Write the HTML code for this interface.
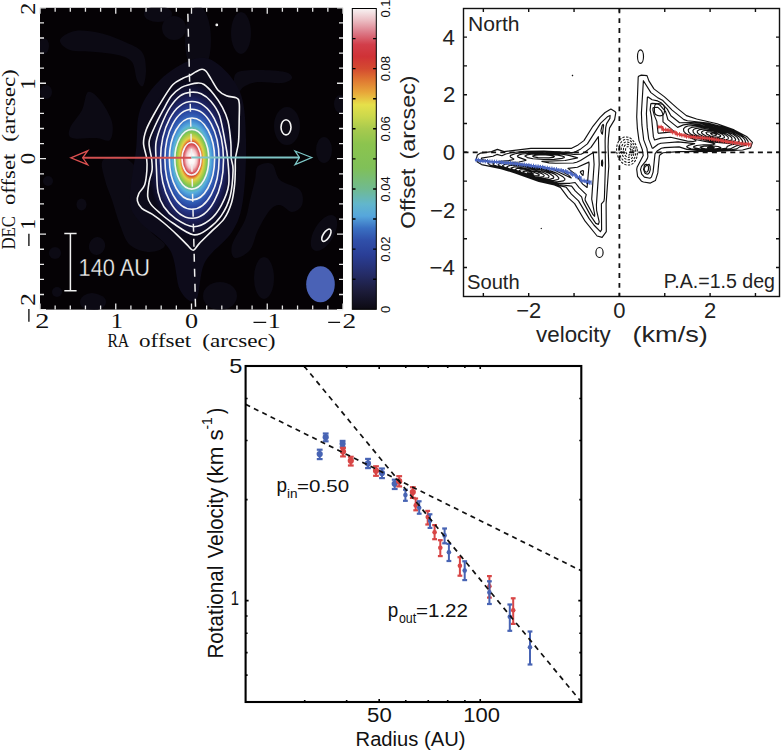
<!DOCTYPE html>
<html><head><meta charset="utf-8"><title>figure</title>
<style>html,body{margin:0;padding:0;background:#fff;width:781px;height:752px;overflow:hidden}
svg{display:block;font-family:"Liberation Sans",sans-serif}</style></head>
<body><svg width="781" height="752" viewBox="0 0 781 752">
<rect width="781" height="752" fill="#fff"/>
<defs>
<radialGradient id="blob" cx="0.5" cy="0.5" r="0.5" gradientUnits="objectBoundingBox">
<stop offset="0" stop-color="#ffffff"/>
<stop offset="0.06" stop-color="#fdf6f6"/>
<stop offset="0.11" stop-color="#f2c6ca"/>
<stop offset="0.15" stop-color="#de6a72"/>
<stop offset="0.18" stop-color="#d03234"/>
<stop offset="0.2" stop-color="#dc5a30"/>
<stop offset="0.22" stop-color="#e6a038"/>
<stop offset="0.24" stop-color="#e2d048"/>
<stop offset="0.28" stop-color="#a8cc48"/>
<stop offset="0.31" stop-color="#7cc454"/>
<stop offset="0.34" stop-color="#66bea0"/>
<stop offset="0.38" stop-color="#58b0dc"/>
<stop offset="0.42" stop-color="#4690d4"/>
<stop offset="0.47" stop-color="#3466bc"/>
<stop offset="0.54" stop-color="#2a48a2"/>
<stop offset="0.6" stop-color="#243484"/>
<stop offset="0.66" stop-color="#1e2466"/>
<stop offset="0.72" stop-color="#181a4a"/>
<stop offset="0.8" stop-color="#100f2e"/>
<stop offset="0.88" stop-color="#0a0818"/>
<stop offset="0.96" stop-color="#0d0b1a"/>
<stop offset="1" stop-color="#0d0b1a"/>
</radialGradient>
<linearGradient id="cbar" x1="0" y1="1" x2="0" y2="0">
<stop offset="0" stop-color="#0c0a12"/>
<stop offset="0.06" stop-color="#1c1c3a"/>
<stop offset="0.12" stop-color="#252d6a"/>
<stop offset="0.18" stop-color="#2a3e96"/>
<stop offset="0.23" stop-color="#3050aa"/>
<stop offset="0.27" stop-color="#3a70c2"/>
<stop offset="0.31" stop-color="#56a6dc"/>
<stop offset="0.35" stop-color="#62b6cc"/>
<stop offset="0.4" stop-color="#70ba90"/>
<stop offset="0.47" stop-color="#80c058"/>
<stop offset="0.55" stop-color="#8cc44e"/>
<stop offset="0.6" stop-color="#a8ca4e"/>
<stop offset="0.64" stop-color="#cad84c"/>
<stop offset="0.68" stop-color="#e6e04a"/>
<stop offset="0.72" stop-color="#e8a83a"/>
<stop offset="0.76" stop-color="#e07a32"/>
<stop offset="0.8" stop-color="#d44a30"/>
<stop offset="0.84" stop-color="#d03236"/>
<stop offset="0.88" stop-color="#d23e4a"/>
<stop offset="0.92" stop-color="#dc7a88"/>
<stop offset="0.96" stop-color="#ebbcc2"/>
<stop offset="1" stop-color="#f8f4f4"/>
</linearGradient>
<clipPath id="lclip"><rect x="40" y="7.8" width="303" height="301.8"/></clipPath>
<clipPath id="rclip"><rect x="463.5" y="8.5" width="315.5" height="287.5"/></clipPath>
<clipPath id="bclip"><rect x="246" y="366" width="335" height="336"/></clipPath>
</defs>
<rect x="40" y="7.8" width="303" height="301.8" fill="#050205"/>
<g clip-path="url(#lclip)">
<path d="M60,40C60.83,36.83 68.33,32.17 75,31C81.67,29.83 91.67,31.17 100,33C108.33,34.83 118,38.83 125,42C132,45.17 138.5,47.33 142,52C145.5,56.67 145.83,64.33 146,70C146.17,75.67 144.5,84.33 143,86C141.5,87.67 138.83,84 137,80C135.17,76 135.17,66.17 132,62C128.83,57.83 124.17,56.67 118,55C111.83,53.33 103,52.83 95,52C87,51.17 75.83,52 70,50C64.17,48 59.17,43.17 60,40Z" fill="#0c0a14"/>
<path d="M88,92C91,90.33 96,95 100,100C104,105 110.33,115.33 112,122C113.67,128.67 112.67,137.33 110,140C107.33,142.67 102.33,138.33 96,138C89.67,137.67 76.33,139.67 72,138C67.67,136.33 68.33,132.67 70,128C71.67,123.33 79,116 82,110C85,104 85,93.67 88,92Z" fill="#0c0a14"/>
<path d="M103,160C106.33,156.33 118.83,155.5 125,158C131.17,160.5 137.5,168 140,175C142.5,182 138.33,190.83 140,200C141.67,209.17 145.83,222.5 150,230C154.17,237.5 165,241.33 165,245C165,248.67 155.83,252 150,252C144.17,252 135,249.5 130,245C125,240.5 123,232.5 120,225C117,217.5 114.5,207.5 112,200C109.5,192.5 106.5,186.67 105,180C103.5,173.33 99.67,163.67 103,160Z" fill="#0c0a14"/>
<path d="M258,166C260.83,163.33 268.33,161.67 272,164C275.67,166.33 275.33,175.67 280,180C284.67,184.33 296.33,185.83 300,190C303.67,194.17 303.33,201.33 302,205C300.67,208.67 295.67,212 292,212C288.33,212 283.67,205.33 280,205C276.33,204.67 273.67,205.83 270,210C266.33,214.17 261.33,223.33 258,230C254.67,236.67 253.83,245.33 250,250C246.17,254.67 238,258.83 235,258C232,257.17 230.33,251.33 232,245C233.67,238.67 242,227.5 245,220C248,212.5 248.33,206.67 250,200C251.67,193.33 253.67,185.67 255,180C256.33,174.33 255.17,168.67 258,166Z" fill="#0c0a14"/>
<path d="M238,72C242.33,70 252.17,70 260,70C267.83,70 279.67,70.67 285,72C290.33,73.33 292.5,76.17 292,78C291.5,79.83 287.67,82.33 282,83C276.33,83.67 264.17,81.5 258,82C251.83,82.5 248.33,84.33 245,86C241.67,87.67 239.83,92.67 238,92C236.17,91.33 234,85.33 234,82C234,78.67 233.67,74 238,72Z" fill="#0c0a14"/>
<ellipse cx="241" cy="33" rx="10" ry="21" transform="rotate(0 241 33)" fill="#0c0a14"/>
<ellipse cx="287" cy="126" rx="13" ry="19" transform="rotate(0 287 126)" fill="#0c0a14"/>
<ellipse cx="324" cy="150" rx="8" ry="13" transform="rotate(0 324 150)" fill="#0c0a14"/>
<ellipse cx="340" cy="104" rx="6" ry="9" transform="rotate(0 340 104)" fill="#0c0a14"/>
<ellipse cx="198" cy="40" rx="13" ry="34" transform="rotate(0 198 40)" fill="#0c0a14"/>
<ellipse cx="81.5" cy="204.5" rx="5" ry="6" transform="rotate(0 81.5 204.5)" fill="#0c0a14"/>
<ellipse cx="97" cy="246" rx="8" ry="9" transform="rotate(20 97 246)" fill="#0c0a14"/>
<ellipse cx="94" cy="302" rx="12" ry="8" transform="rotate(0 94 302)" fill="#0c0a14"/>
<ellipse cx="48" cy="181" rx="5" ry="5" transform="rotate(0 48 181)" fill="#0c0a14"/>
<ellipse cx="55" cy="253" rx="6" ry="6" transform="rotate(0 55 253)" fill="#0c0a14"/>
<ellipse cx="57" cy="292" rx="5" ry="5" transform="rotate(0 57 292)" fill="#0c0a14"/>
<ellipse cx="92" cy="302" rx="12" ry="9" transform="rotate(0 92 302)" fill="#0c0a14"/>
<ellipse cx="264" cy="278" rx="10" ry="21" transform="rotate(0 264 278)" fill="#0c0a14"/>
<ellipse cx="324" cy="233" rx="10" ry="20" transform="rotate(30 324 233)" fill="#0c0a14"/>
<ellipse cx="220" cy="296" rx="17" ry="14" transform="rotate(0 220 296)" fill="#0c0a14"/>
<ellipse cx="158" cy="14" rx="14" ry="8" transform="rotate(0 158 14)" fill="#0c0a14"/>
<ellipse cx="174" cy="28" rx="12" ry="12" transform="rotate(0 174 28)" fill="#0c0a14"/>
<ellipse cx="44" cy="46" rx="5" ry="8" transform="rotate(0 44 46)" fill="#0c0a14"/>
<ellipse cx="46" cy="92" rx="6" ry="7" transform="rotate(0 46 92)" fill="#0c0a14"/>
<path d="M191,60C200.17,57 206.83,56.67 215,62C223.17,67.33 234.83,79 240,92C245.17,105 245.5,122 246,140C246.5,158 245.33,184.67 243,200C240.67,215.33 238.33,221.67 232,232C225.67,242.33 211,250.67 205,262C199,273.33 200.17,295.33 196,300C191.83,304.67 184.33,298.33 180,290C175.67,281.67 176.67,261.33 170,250C163.33,238.67 146.67,230.33 140,222C133.33,213.67 130.67,212 130,200C129.33,188 134.33,165 136,150C137.67,135 136,121.67 140,110C144,98.33 151.5,88.33 160,80C168.5,71.67 181.83,63 191,60Z" fill="#0d0b1a"/>
<ellipse cx="191.6" cy="159" rx="50" ry="88.5" fill="url(#blob)"/>
<g fill="none" stroke="#f4f4f4" stroke-width="1.6">
<ellipse cx="191.55" cy="158.75" rx="9.5" ry="16.3"/>
<ellipse cx="191.8" cy="159.3" rx="17" ry="29.8"/>
<ellipse cx="192" cy="159" rx="22.6" ry="41"/>
<ellipse cx="192" cy="159.2" rx="27.1" ry="50"/>
<ellipse cx="192" cy="159.9" rx="31.5" ry="58.4"/>
<path d="M190.6,92.3C194.12,91.95 197.8,92.18 201.2,93.7C204.6,95.22 207.95,97.77 211,101.4C214.05,105.03 217.15,108.73 219.5,115.5C221.85,122.27 223.75,134.92 225.1,142C226.45,149.08 227,150.88 227.6,158C228.2,165.12 229.75,176.82 228.7,184.7C227.65,192.58 224.5,199.4 221.3,205.3C218.1,211.2 214.17,216.53 209.5,220.1C204.83,223.67 198.95,226.95 193.3,226.7C187.65,226.45 180.5,221.92 175.6,218.6C170.7,215.28 166.83,211.22 163.9,206.8C160.97,202.38 159.23,198.23 158,192.1C156.77,185.97 156.83,175.68 156.5,170C156.17,164.32 156.07,162.67 156,158C155.93,153.33 155.13,147.67 156.1,142C157.07,136.33 159.45,129.82 161.8,124C164.15,118.18 167.15,111.8 170.2,107.1C173.25,102.4 176.7,98.27 180.1,95.8C183.5,93.33 187.08,92.65 190.6,92.3Z"/>
<path d="M189.9,84.5C192.48,83.78 194.65,83.1 197,83.1C199.35,83.1 201.18,82.62 204,84.5C206.82,86.38 210.85,90.63 213.9,94.4C216.95,98.17 219.95,102.63 222.3,107.1C224.65,111.57 226.58,115.38 228,121.2C229.42,127.02 230.27,135.87 230.8,142C231.33,148.13 230.82,153.33 231.2,158C231.58,162.67 233.28,163.58 233.1,170C232.92,176.42 232.07,188.9 230.1,196.5C228.13,204.1 224.98,210.2 221.3,215.6C217.62,221 212.67,225.7 208,228.9C203.33,232.1 199.18,235.78 193.3,234.8C187.42,233.82 178.33,226.68 172.7,223C167.07,219.32 163.18,215.88 159.5,212.7C155.82,209.52 152.57,206.6 150.6,203.9C148.63,201.2 147.95,200.18 147.7,196.5C147.45,192.82 148.37,186.22 149.1,181.8C149.83,177.38 151.7,173.97 152.1,170C152.5,166.03 152,162.67 151.5,158C151,153.33 148.57,147.2 149.1,142C149.63,136.8 152.35,132.15 154.7,126.8C157.05,121.45 160.38,115.07 163.2,109.9C166.02,104.73 168.55,99.55 171.6,95.8C174.65,92.05 178.45,89.28 181.5,87.4C184.55,85.52 187.32,85.22 189.9,84.5Z"/>
<path d="M189.9,75.4C192.02,74.35 193.6,72.92 195.6,71.9C197.6,70.88 200.15,69.42 201.9,69.3C203.65,69.18 204.58,69.6 206.1,71.2C207.62,72.8 209,75.73 211,78.9C213,82.07 215.52,87.38 218.1,90.2C220.68,93.02 223.45,94.52 226.5,95.8C229.55,97.08 234.28,96.73 236.4,97.9C238.52,99.07 238.73,99.4 239.2,102.8C239.67,106.2 239.32,111.77 239.2,118.3C239.08,124.83 239.12,135.38 238.5,142C237.88,148.62 236.03,153.33 235.5,158C234.97,162.67 235.45,165.55 235.3,170C235.15,174.45 235.22,179.3 234.6,184.7C233.98,190.1 233.33,196.75 231.6,202.4C229.87,208.05 227.38,213.93 224.2,218.6C221.02,223.27 216.67,226.23 212.5,230.4C208.33,234.57 202.4,240.28 199.2,243.6C196,246.92 195.27,250.05 193.3,250.3C191.33,250.55 190.1,247.68 187.4,245.1C184.7,242.52 181.02,238.48 177.1,234.8C173.18,231.12 168.07,226.43 163.9,223C159.73,219.57 155.78,216.65 152.1,214.2C148.42,211.75 144.25,210.52 141.8,208.3C139.35,206.08 137.9,203.35 137.4,200.9C136.9,198.45 137.58,196.3 138.8,193.6C140.02,190.9 143.35,188.63 144.7,184.7C146.05,180.77 146.58,174.45 146.9,170C147.22,165.55 147.17,162.5 146.6,158C146.03,153.5 143.55,147.73 143.5,143C143.45,138.27 144.67,134.18 146.3,129.6C147.93,125.02 150.48,120.67 153.3,115.5C156.12,110.33 159.92,103.77 163.2,98.6C166.48,93.43 169.72,87.9 173,84.5C176.28,81.1 180.08,79.72 182.9,78.2C185.72,76.68 187.78,76.45 189.9,75.4Z"/>
<ellipse cx="286" cy="127.3" rx="5" ry="7.6"/>
<ellipse cx="326.4" cy="235.2" rx="7" ry="3.2" transform="rotate(-57 326.4 235.2)"/>
<circle cx="216.8" cy="24.9" r="0.6"/>
</g>
<line x1="187.7" y1="7.8" x2="195.6" y2="309.6" stroke="#f0f0f0" stroke-width="1.5" stroke-dasharray="8 7" stroke-dashoffset="-6"/>
<line x1="82.7" y1="157.8" x2="191.5" y2="157.8" stroke="#d25050" stroke-width="2"/>
<path d="M70.8,157.8 L87.7,150.8 L82.7,157.8 L87.7,164.7 Z" fill="none" stroke="#dc5050" stroke-width="1.3" stroke-linejoin="miter"/>
<line x1="191.5" y1="157.6" x2="299.4" y2="157.6" stroke="#7ec4c6" stroke-width="2"/>
<path d="M311.7,157.5 L295.1,151 L299.4,157.5 L295.1,164.5 Z" fill="none" stroke="#7ec8c8" stroke-width="1.3"/>
<ellipse cx="320.5" cy="284.2" rx="14.3" ry="18" fill="#4a62b6"/>
<g stroke="#f0f0f0" stroke-width="1.5"><line x1="70.4" y1="233.4" x2="70.4" y2="290.7"/><line x1="64.3" y1="233.4" x2="76.6" y2="233.4"/><line x1="64.3" y1="290.7" x2="76.6" y2="290.7"/></g>
<text transform="translate(78.56 276.1) scale(0.94 1)" font-family="Liberation Sans" font-size="23.2" fill="#f2f2f2" stroke="#050205" stroke-width="0.3">140 AU</text>
</g>
<path d="M343,7.8v6M343,309.6v-6M40,309.6h6M343,309.6h-6M327.85,7.8v4M327.85,309.6v-4M40,294.51h4M343,294.51h-4M312.7,7.8v4M312.7,309.6v-4M40,279.42h4M343,279.42h-4M297.55,7.8v4M297.55,309.6v-4M40,264.33h4M343,264.33h-4M282.4,7.8v4M282.4,309.6v-4M40,249.24h4M343,249.24h-4M267.25,7.8v6M267.25,309.6v-6M40,234.15h6M343,234.15h-6M252.1,7.8v4M252.1,309.6v-4M40,219.06h4M343,219.06h-4M236.95,7.8v4M236.95,309.6v-4M40,203.97h4M343,203.97h-4M221.8,7.8v4M221.8,309.6v-4M40,188.88h4M343,188.88h-4M206.65,7.8v4M206.65,309.6v-4M40,173.79h4M343,173.79h-4M191.5,7.8v6M191.5,309.6v-6M40,158.7h6M343,158.7h-6M176.35,7.8v4M176.35,309.6v-4M40,143.61h4M343,143.61h-4M161.2,7.8v4M161.2,309.6v-4M40,128.52h4M343,128.52h-4M146.05,7.8v4M146.05,309.6v-4M40,113.43h4M343,113.43h-4M130.9,7.8v4M130.9,309.6v-4M40,98.34h4M343,98.34h-4M115.75,7.8v6M115.75,309.6v-6M40,83.25h6M343,83.25h-6M100.6,7.8v4M100.6,309.6v-4M40,68.16h4M343,68.16h-4M85.45,7.8v4M85.45,309.6v-4M40,53.07h4M343,53.07h-4M70.3,7.8v4M70.3,309.6v-4M40,37.98h4M343,37.98h-4M55.15,7.8v4M55.15,309.6v-4M40,22.89h4M343,22.89h-4M40,7.8v6M40,309.6v-6M40,7.8h6M343,7.8h-6" stroke="#e8e8e8" stroke-width="1.3" fill="none"/>
<rect x="352.3" y="8.5" width="24" height="300.8" fill="url(#cbar)" stroke="#000" stroke-width="1"/>
<path d="M352.3,279.22h3.2M376.3,279.22h-3.2M352.3,249.14h3.2M376.3,249.14h-3.2M352.3,219.06h3.2M376.3,219.06h-3.2M352.3,188.98h3.2M376.3,188.98h-3.2M352.3,158.9h3.2M376.3,158.9h-3.2M352.3,128.82h3.2M376.3,128.82h-3.2M352.3,98.74h3.2M376.3,98.74h-3.2M352.3,68.66h3.2M376.3,68.66h-3.2M352.3,38.58h3.2M376.3,38.58h-3.2" stroke="#000" stroke-width="1.4"/>
<text transform="translate(389.9 309.3) rotate(-90)" text-anchor="middle" font-family="Liberation Sans" font-size="13" fill="#111">0</text>
<text transform="translate(389.9 249.14) rotate(-90)" text-anchor="middle" font-family="Liberation Sans" font-size="13" fill="#111">0.02</text>
<text transform="translate(389.9 188.98) rotate(-90)" text-anchor="middle" font-family="Liberation Sans" font-size="13" fill="#111">0.04</text>
<text transform="translate(389.9 128.82) rotate(-90)" text-anchor="middle" font-family="Liberation Sans" font-size="13" fill="#111">0.06</text>
<text transform="translate(389.9 68.66) rotate(-90)" text-anchor="middle" font-family="Liberation Sans" font-size="13" fill="#111">0.08</text>
<text transform="translate(389.9 8.5) rotate(-90)" text-anchor="middle" font-family="Liberation Sans" font-size="13" fill="#111">0.1</text>
<text transform="translate(35.3 14.87) rotate(-90) scale(1.12 1)" font-family="Liberation Serif" font-size="21.5" fill="#111">2</text>
<text transform="translate(35.3 89.63) rotate(-90) scale(1.05 1)" font-family="Liberation Serif" font-size="21.5" fill="#111">1</text>
<text transform="translate(35.3 164.3) rotate(-90) scale(1.05 1)" font-family="Liberation Serif" font-size="21.5" fill="#111">0</text>
<text transform="translate(35.3 229.75) rotate(-90) scale(1.01 1)" font-family="Liberation Serif" font-size="21.5" fill="#111">1</text>
<text transform="translate(35.3 305.93) rotate(-90) scale(1.2 1)" font-family="Liberation Serif" font-size="21.5" fill="#111">2</text>
<path d="M28.9,233.7V246.1M28.9,308.9V321.7" stroke="#111" stroke-width="1.35"/>
<text transform="translate(35.17 328.4) scale(1.32 1)" font-family="Liberation Serif" font-size="21.5" fill="#111">2</text>
<text transform="translate(110.69 328.4) scale(1.14 1)" font-family="Liberation Serif" font-size="21.5" fill="#111">1</text>
<text transform="translate(185.05 328.4) scale(1.22 1)" font-family="Liberation Serif" font-size="21.5" fill="#111">0</text>
<text transform="translate(267.69 328.4) scale(1.2 1)" font-family="Liberation Serif" font-size="21.5" fill="#111">1</text>
<text transform="translate(342.61 328.4) scale(1.27 1)" font-family="Liberation Serif" font-size="21.5" fill="#111">2</text>
<path d="M253.5,322.3H266.2M328.2,322.3H340.1" stroke="#111" stroke-width="1.35"/>
<text transform="translate(14.9 249.5) rotate(-90)" font-family="Liberation Serif" font-size="19.5" fill="#111" textLength="33.5" lengthAdjust="spacingAndGlyphs">DEC</text>
<text transform="translate(14.9 205.1) rotate(-90)" font-family="Liberation Serif" font-size="19.5" fill="#111" textLength="51.4" lengthAdjust="spacingAndGlyphs">offset</text>
<text transform="translate(14.9 141.8) rotate(-90)" font-family="Liberation Serif" font-size="19.5" fill="#111" textLength="72.5" lengthAdjust="spacingAndGlyphs">(arcsec)</text>
<text x="107.4" y="346.8" font-family="Liberation Serif" font-size="19" fill="#111" textLength="21.8" lengthAdjust="spacingAndGlyphs">RA</text>
<text x="139.1" y="346.8" font-family="Liberation Serif" font-size="19" fill="#111" textLength="52.1" lengthAdjust="spacingAndGlyphs">offset</text>
<text x="202.2" y="346.8" font-family="Liberation Serif" font-size="19" fill="#111" textLength="73.3" lengthAdjust="spacingAndGlyphs">(arcsec)</text>
<g clip-path="url(#rclip)">
<path d="M602.1,237.4 597.1,236.0 585.1,221.2 574.6,203.6 568.0,197.6 560.4,187.4 554.4,185.0 538.9,181.5 515.8,173.1 501.1,168.6 481.6,164.6 477.4,162.0 476.3,159.1 477.4,154.9 480.6,153.1 491.6,151.6 497.4,149.4 504.1,151.6 530.9,148.4 571.6,148.3 578.1,144.9 583.9,140.6 592.9,126.3 600.1,117.3 605.1,112.5 610.9,109.1 614.9,111.4 615.8,112.6 614.6,119.6 609.5,128.1 608.4,138.1 608.1,146.9 608.8,166.1 606.1,203.9 606.3,231.6 602.1,237.4Z M600.4,231.7 593.9,225.0 589.0,218.4 578.5,200.9 571.4,194.1 566.1,187.1 539.9,181.2 528.9,177.7 515.7,172.6 500.4,167.7 490.1,165.1 488.0,163.6 488.3,161.1 482.7,159.9 481.6,159.1 481.5,158.1 492.9,156.2 496.9,154.4 501.9,155.7 505.9,154.0 510.9,152.8 524.4,151.3 543.9,151.0 571.7,152.6 574.0,152.4 580.8,148.9 587.4,143.9 600.7,123.1 607.9,116.4 610.1,115.4 609.9,118.4 606.6,123.6 605.7,127.6 605.1,140.9 605.4,165.6 604.4,198.1 603.9,201.1 601.4,203.9 601.6,229.6 600.4,231.7Z M602.4,134.2 601.6,133.4 600.9,130.9 602.1,125.6 603.1,124.4 603.6,125.1 602.4,134.2Z M598.4,224.4 595.8,223.4 591.2,216.6 582.9,201.4 581.6,196.9 575.2,190.9 571.6,186.1 558.9,184.5 539.9,180.8 494.6,165.2 493.1,164.4 492.9,163.6 494.6,162.3 497.6,161.5 508.6,160.6 513.6,159.5 513.8,158.9 510.4,156.9 510.1,156.1 510.6,155.4 515.1,153.7 521.9,152.6 531.6,152.0 544.9,152.0 563.6,153.2 573.9,154.4 581.1,154.2 585.1,152.0 591.0,147.4 598.4,136.7 599.2,164.6 596.4,204.9 596.6,210.3 599.2,221.9 598.4,224.4Z M602.4,166.2 601.6,165.4 601.5,163.4 601.6,160.9 602.4,160.0 602.7,162.9 602.4,166.2Z M594.6,216.3 593.1,214.7 585.2,200.4 585.1,198.6 586.3,194.6 579.1,187.6 575.1,182.5 569.9,183.3 558.1,183.3 540.6,180.5 528.9,177.0 505.6,168.4 498.9,165.6 498.1,164.6 499.6,163.5 503.3,162.6 519.1,162.0 525.6,160.5 526.0,160.1 525.0,159.6 518.1,157.1 517.4,155.9 519.0,154.9 522.4,154.0 534.4,152.9 549.9,153.2 563.6,154.4 570.0,155.6 577.6,157.9 565.1,160.5 541.9,161.4 549.1,162.9 555.6,163.3 573.4,163.0 576.6,162.2 580.5,160.4 593.3,152.6 594.1,164.4 591.7,199.1 594.7,214.4 594.6,216.3Z M571.2,177.9 568.4,174.9 561.4,171.3 557.6,170.0 551.8,169.1 571.2,177.9Z M554.1,159.4 543.6,159.5 533.1,158.8 527.4,157.6 524.9,156.1 526.9,154.9 531.4,154.2 543.6,153.9 558.0,155.1 562.4,156.1 564.4,157.1 563.9,157.8 562.0,158.4 554.1,159.4Z M587.1,187.5 582.7,184.1 574.9,173.9 568.0,168.4 577.4,167.2 588.9,162.1 589.1,164.4 587.1,187.5Z M557.1,181.9 547.9,181.4 540.6,180.1 533.9,178.2 508.2,168.9 503.6,166.9 502.6,165.6 504.6,164.5 508.9,163.8 522.1,164.1 529.1,165.0 544.4,168.6 556.4,173.1 562.5,176.4 564.8,178.6 564.8,179.9 563.5,180.9 557.1,181.9Z M548.9,157.9 538.1,157.6 533.9,156.9 532.6,156.1 535.6,155.1 543.1,154.8 550.6,155.4 554.4,156.6 553.2,157.4 548.9,157.9Z M553.1,180.6 543.1,180.1 533.9,177.9 510.8,169.4 507.6,167.9 506.8,166.9 508.5,165.9 511.6,165.3 521.1,165.5 532.6,167.0 543.4,169.6 553.6,173.6 556.8,175.6 558.7,177.6 558.8,178.6 557.9,179.5 553.1,180.6Z M583.1,175.2 582.4,175.1 580.3,172.1 580.8,171.4 582.9,170.5 583.5,171.1 583.1,175.2Z M549.9,179.4 542.3,179.4 533.6,177.5 522.4,173.6 512.4,169.4 510.9,168.1 514.4,166.9 522.4,166.8 532.1,168.1 541.1,170.3 548.8,173.1 553.0,175.9 553.8,177.1 553.5,178.1 549.9,179.4Z M543.6,178.4 537.3,177.9 529.5,175.9 520.3,172.4 515.1,169.4 516.9,168.4 520.9,168.1 532.4,169.4 543.2,172.4 547.2,174.4 549.0,176.1 548.9,177.1 548.1,177.7 543.6,178.4Z M540.9,177.1 535.1,176.7 529.2,175.4 521.9,172.6 519.1,170.6 520.9,169.7 525.1,169.6 536.9,171.7 542.0,173.6 544.2,175.4 543.7,176.6 540.9,177.1Z M538.4,175.7 534.6,175.7 529.5,174.9 524.6,173.1 523.0,171.6 526.4,170.9 533.1,172.0 538.7,174.1 539.3,175.1 538.4,175.7Z M532.9,174.4 529.1,173.9 527.4,172.7 531.6,172.9 533.7,173.9 532.9,174.4Z M650.4,183.1 643.4,182.0 641.6,181.3 637.6,176.4 636.7,169.4 637.1,167.3 643.2,155.4 642.3,149.6 639.0,140.6 637.4,128.6 636.7,116.9 638.2,77.1 638.6,76.3 641.3,75.1 647.0,75.6 648.9,80.9 653.9,88.9 664.2,96.6 677.4,108.4 686.4,115.6 696.6,119.0 717.1,123.7 734.1,129.9 746.6,136.4 752.4,142.4 750.6,147.9 742.6,150.0 715.6,151.5 678.9,151.6 663.1,152.7 660.1,154.8 659.4,155.9 657.8,172.9 655.4,180.6 650.4,183.1Z M649.9,178.2 644.4,177.1 641.7,174.1 640.5,169.6 641.5,166.4 645.8,161.1 647.5,158.1 647.9,156.1 647.0,148.6 643.7,139.9 641.9,124.9 641.4,112.9 643.4,80.7 650.9,92.6 657.3,97.4 662.9,100.6 672.1,110.1 683.9,119.6 687.4,120.8 707.9,123.0 722.4,126.7 733.9,131.0 740.6,134.5 745.8,137.9 748.1,141.4 748.3,143.4 746.9,144.9 739.6,146.9 736.8,148.9 729.6,150.0 715.1,150.8 697.1,150.5 686.9,149.4 679.1,146.9 664.6,147.6 661.4,148.3 657.1,151.1 655.0,153.9 653.1,172.1 651.4,177.1 649.9,178.2Z M715.6,150.1 702.1,150.1 691.1,148.9 687.4,147.6 686.7,146.4 688.4,145.4 694.7,143.6 678.1,141.9 660.9,143.2 658.1,144.3 652.9,148.2 652.2,148.1 648.7,139.1 647.2,127.4 646.4,113.6 647.4,97.1 648.1,97.0 652.1,99.7 657.6,100.9 661.1,102.7 667.3,109.1 670.9,115.7 679.6,122.7 690.6,122.5 699.4,122.9 707.6,123.9 716.9,125.9 728.1,129.6 735.6,132.9 742.4,137.1 744.4,139.1 745.3,140.9 745.5,142.9 744.6,143.8 736.0,145.9 730.2,148.9 715.6,150.1Z M647.9,174.1 646.4,174.0 644.9,173.0 643.5,169.4 645.4,166.2 649.1,164.2 650.1,166.4 650.3,169.6 649.4,172.6 647.9,174.1Z M714.4,149.6 702.2,149.4 694.5,147.9 693.5,147.1 693.7,146.6 696.6,145.5 703.4,144.7 713.4,144.6 714.9,143.9 711.2,142.6 696.6,139.7 690.9,137.6 689.6,137.6 694.6,139.5 695.9,140.9 693.1,141.5 687.4,141.1 670.6,137.3 660.9,138.1 654.6,140.0 653.4,136.9 651.5,117.1 650.1,109.9 650.8,103.9 652.1,103.4 656.1,103.6 658.4,104.3 660.4,105.6 665.6,111.6 667.9,119.6 677.6,127.4 683.4,124.9 690.6,123.9 701.9,124.2 712.9,125.9 723.6,128.9 733.3,132.9 739.4,136.9 742.5,140.9 742.6,142.1 741.6,143.0 730.5,144.9 727.1,146.6 726.7,147.9 725.8,148.4 714.4,149.6Z M660.1,133.1 658.6,133.3 658.0,132.6 656.8,121.4 654.3,115.4 652.9,110.1 653.0,108.1 653.9,107.5 657.9,107.3 661.6,110.9 662.9,113.9 663.0,121.9 674.3,131.6 660.1,133.1Z M728.9,143.4 714.1,142.1 697.6,138.3 686.1,133.9 683.8,131.4 683.5,128.9 685.1,127.1 687.9,126.0 697.6,125.1 708.9,126.2 721.1,129.1 733.1,134.2 737.0,137.1 738.9,139.9 739.1,141.4 737.6,142.3 728.9,143.4Z M715.9,148.9 705.4,148.8 701.5,148.1 700.2,147.1 703.9,146.1 711.1,145.9 718.1,146.5 720.8,147.6 719.5,148.4 715.9,148.9Z M729.4,142.1 721.9,142.0 714.6,141.2 700.9,138.1 691.0,134.4 688.7,132.1 688.2,129.9 689.3,128.4 691.4,127.4 698.9,126.4 708.1,127.1 718.1,129.2 728.6,133.3 734.4,137.4 735.6,139.4 735.3,140.9 729.4,142.1Z M713.1,148.1 709.9,148.2 707.5,147.6 710.6,147.0 714.2,147.6 713.1,148.1Z M728.6,140.9 717.6,140.6 703.4,137.7 695.7,134.9 693.4,132.6 692.9,130.6 693.6,129.6 695.4,128.6 701.1,127.7 708.4,128.2 717.1,130.0 725.0,132.9 730.6,136.4 731.9,138.1 732.0,139.6 731.1,140.4 728.6,140.9Z M723.4,139.9 713.9,139.1 703.5,136.6 698.7,134.1 697.4,132.6 697.3,131.1 699.6,129.6 704.6,129.0 711.6,129.7 718.3,131.4 724.6,134.1 728.0,136.9 728.4,138.1 727.9,139.2 723.4,139.9Z M721.9,138.6 714.1,138.1 706.8,136.4 702.6,134.1 701.6,132.9 701.6,131.9 703.4,130.7 707.1,130.3 712.4,130.8 717.1,132.0 721.5,133.9 724.1,135.9 724.4,137.7 721.9,138.6Z M718.9,137.1 714.6,137.0 710.4,136.0 706.7,134.1 706.0,132.6 707.2,131.9 709.9,131.6 716.4,132.9 720.6,135.4 720.6,136.4 718.9,137.1Z M715.9,135.4 712.6,135.0 710.6,133.6 711.9,133.0 714.6,133.4 716.7,134.6 715.9,135.4Z" fill="none" stroke="#111" stroke-width="1.15" stroke-linejoin="round"/>
<g fill="none" stroke="#111" stroke-width="1.15">
<ellipse cx="640.5" cy="56.6" rx="3" ry="6.8"/>
<path d="M654.8,105.5 C655.2,103.6 658,103.4 661.5,104 C664.2,104.6 664.8,107 664.6,110.5 C664.4,114 663.5,115.8 660,115.8 C656.5,115.8 654.6,115 654.4,111.5 C654.2,109 654.4,107.5 654.8,105.5 Z"/>
<path d="M644.3,165.5 C645.3,163.8 647.8,164 648.4,166.5 C649,169.5 648,172.2 646.2,172.2 C644.4,172.2 643.6,168.5 644.3,165.5 Z"/>
<ellipse cx="599.5" cy="252.5" rx="3.6" ry="5"/>
<path d="M572,75 l1,1 M541,228 l0.5,1"/>
</g>
<g fill="none" stroke="#1a1a1a" stroke-width="1.05" stroke-dasharray="2.4 1.3">
<ellipse cx="627" cy="151" rx="10.3" ry="14.2" transform="rotate(-10 627 151)"/>
<ellipse cx="627.3" cy="151" rx="8.3" ry="11.6" transform="rotate(-10 627 151)"/>
<ellipse cx="627.6" cy="151" rx="6.3" ry="9" transform="rotate(-10 627 151)"/>
<ellipse cx="627.9" cy="151" rx="4.4" ry="6.6" transform="rotate(-10 627 151)"/>
<ellipse cx="628.2" cy="151" rx="2.6" ry="4.2" transform="rotate(-10 627 151)"/>
</g>
<line x1="619.4" y1="8.5" x2="619.4" y2="296.5" stroke="#111" stroke-width="1.8" stroke-dasharray="4.8 5"/>
<line x1="463.5" y1="152.3" x2="779.5" y2="152.3" stroke="#111" stroke-width="1.8" stroke-dasharray="5 4.2"/>
<path d="M474.9,159.9H479.5V161.0H484.1V161.2H488.7V161.7H493.3V161.9H497.9V162.3H502.5V162.7H507.1V163.1H511.7V163.6H516.3V164.2H520.9V164.7H525.5V165.3H530.1V165.9H534.7V166.5H539.3V167.1H543.9V167.9H548.5V168.7H553.1V169.4H557.7V170.2H562.3V171.2H566.9V172.7H571.5V174.7H576.1V177.2H580.7V180.7H585.3V181.8H589.9V182.6H590.5" fill="none" stroke="#4a66c0" stroke-width="2.0"/>
<path d="M476.1,157.8v4.4M478.3,157.8v4.4M480.7,158.8v4.4M482.9,158.8v4.4M485.3,159.0v4.4M487.5,159.0v4.4M489.9,159.5v4.4M492.1,159.5v4.4M494.5,159.7v4.4M496.7,159.7v4.4M499.1,160.1v4.4M501.3,160.1v4.4M503.7,160.5v4.4M505.9,160.5v4.4M508.3,160.9v4.4M510.5,160.9v4.4M512.9,161.4v4.4M515.1,161.4v4.4M517.5,162.0v4.4M519.7,162.0v4.4M522.1,162.5v4.4M524.3,162.5v4.4M526.7,163.1v4.4M528.9,163.1v4.4M531.3,163.7v4.4M533.5,163.7v4.4M535.9,164.3v4.4M538.1,164.3v4.4M540.5,164.9v4.4M542.7,164.9v4.4M545.1,165.7v4.4M547.3,165.7v4.4M549.7,166.5v4.4M551.9,166.5v4.4M554.3,167.2v4.4M556.5,167.2v4.4M558.9,168.0v4.4M561.1,168.0v4.4M563.5,169.0v4.4M565.7,169.0v4.4M568.1,170.5v4.4M570.3,170.5v4.4M572.7,172.5v4.4M574.9,172.5v4.4M577.3,175.0v4.4M579.5,175.0v4.4M581.9,178.5v4.4M584.1,178.5v4.4M586.5,179.6v4.4M588.7,179.6v4.4M591.1,180.4v4.4M589.3,180.4v4.4" stroke="#4a66c0" stroke-width="1.0"/>
<path d="M657.7,127.0H662.3V129.7H666.9V130.2H671.5V132.3H676.1V134.3H680.7V135.3H685.3V136.4H689.9V136.9H694.5V137.4H699.1V137.8H703.7V138.2H708.3V138.8H712.9V139.5H717.5V140.3H722.1V141.2H726.7V142.0H731.3V142.6H735.9V143.2H740.5V143.8H745.1V144.3H749.7V144.6H750.0" fill="none" stroke="#d84040" stroke-width="2.0"/>
<path d="M658.9,124.8v4.4M661.1,124.8v4.4M663.5,127.5v4.4M665.7,127.5v4.4M668.1,128.0v4.4M670.3,128.0v4.4M672.7,130.1v4.4M674.9,130.1v4.4M677.3,132.1v4.4M679.5,132.1v4.4M681.9,133.1v4.4M684.1,133.1v4.4M686.5,134.2v4.4M688.7,134.2v4.4M691.1,134.7v4.4M693.3,134.7v4.4M695.7,135.2v4.4M697.9,135.2v4.4M700.3,135.6v4.4M702.5,135.6v4.4M704.9,136.0v4.4M707.1,136.0v4.4M709.5,136.6v4.4M711.7,136.6v4.4M714.1,137.3v4.4M716.3,137.3v4.4M718.7,138.1v4.4M720.9,138.1v4.4M723.3,139.0v4.4M725.5,139.0v4.4M727.9,139.8v4.4M730.1,139.8v4.4M732.5,140.4v4.4M734.7,140.4v4.4M737.1,141.0v4.4M739.3,141.0v4.4M741.7,141.6v4.4M743.9,141.6v4.4M746.3,142.1v4.4M748.5,142.1v4.4M750.9,142.4v4.4M748.8,142.4v4.4" stroke="#d84040" stroke-width="1.0"/>
</g>
<rect x="463.5" y="8.5" width="316" height="288" fill="none" stroke="#111" stroke-width="1.4"/>
<path d="M483.35,296.5v-3.5M483.35,8.5v3.5M528.7,296.5v-3.5M528.7,8.5v3.5M574.05,296.5v-3.5M574.05,8.5v3.5M619.4,296.5v-3.5M619.4,8.5v3.5M664.75,296.5v-3.5M664.75,8.5v3.5M710.1,296.5v-3.5M710.1,8.5v3.5M755.45,296.5v-3.5M755.45,8.5v3.5M463.5,267.5h3.5M779.5,267.5h-3.5M463.5,238.7h3.5M779.5,238.7h-3.5M463.5,209.9h3.5M779.5,209.9h-3.5M463.5,181.1h3.5M779.5,181.1h-3.5M463.5,152.3h3.5M779.5,152.3h-3.5M463.5,123.5h3.5M779.5,123.5h-3.5M463.5,94.7h3.5M779.5,94.7h-3.5M463.5,65.9h3.5M779.5,65.9h-3.5M463.5,37.1h3.5M779.5,37.1h-3.5" stroke="#111" stroke-width="1.4"/>
<text transform="translate(442.43 44.8)" font-family="Liberation Sans" font-size="22.2" fill="#222">4</text>
<text transform="translate(442.88 102.4)" font-family="Liberation Sans" font-size="22.2" fill="#222">2</text>
<text transform="translate(442.66 160)" font-family="Liberation Sans" font-size="22.2" fill="#222">0</text>
<text transform="translate(430 217.6)" font-family="Liberation Sans" font-size="22.2" fill="#222">−2</text>
<text transform="translate(429.56 275.2)" font-family="Liberation Sans" font-size="22.2" fill="#222">−4</text>
<text transform="translate(516.16 318.4)" font-family="Liberation Sans" font-size="22" fill="#222">−2</text>
<text transform="translate(613.24 318.4)" font-family="Liberation Sans" font-size="22" fill="#222">0</text>
<text transform="translate(703.94 318.4)" font-family="Liberation Sans" font-size="22" fill="#222">2</text>
<text transform="translate(536.1 341.9) scale(0.99 1)" font-family="Liberation Sans" font-size="22.6" fill="#222">velocity</text>
<text transform="translate(632.48 341.9) scale(1.2 1)" font-family="Liberation Sans" font-size="22.6" fill="#222">(km/s)</text>
<text transform="translate(415.3 228.63) rotate(-90) scale(1.09 1)" font-family="Liberation Sans" font-size="20.8" fill="#222">Offset</text>
<text transform="translate(415.3 159.5) rotate(-90) scale(1.12 1)" font-family="Liberation Sans" font-size="20.8" fill="#222">(arcsec)</text>
<text transform="translate(468.01 30.5) scale(1.03 1)" font-family="Liberation Sans" font-size="20.5" fill="#222">North</text>
<text transform="translate(466.99 288.5) scale(0.96 1)" font-family="Liberation Sans" font-size="21" fill="#222">South</text>
<text transform="translate(663.83 288) scale(0.97 1)" font-family="Liberation Sans" font-size="20.2" fill="#222">P.A.=1.5 deg</text>
<g clip-path="url(#bclip)">
<g fill="#4864b4"><rect x="318.7" y="449.2" width="2" height="10.4"/><rect x="316.8" y="448.6" width="5.8" height="2.2"/><rect x="316.8" y="458" width="5.8" height="2.2"/><circle cx="319.7" cy="454.1" r="3.1"/></g>
<g fill="#4864b4"><rect x="324.7" y="433" width="2" height="8.8"/><rect x="322.8" y="432.4" width="5.8" height="2.2"/><rect x="322.8" y="440.2" width="5.8" height="2.2"/><circle cx="325.7" cy="437.2" r="3.1"/></g>
<g fill="#4864b4"><rect x="341.6" y="440.4" width="2" height="7.3"/><rect x="339.7" y="439.8" width="5.8" height="2.2"/><rect x="339.7" y="446.1" width="5.8" height="2.2"/><circle cx="342.6" cy="443.8" r="3.1"/></g>
<g fill="#d84646"><rect x="342" y="447.4" width="2" height="9.5"/><rect x="340.1" y="446.8" width="5.8" height="2.2"/><rect x="340.1" y="455.3" width="5.8" height="2.2"/><circle cx="343" cy="451.5" r="3.1"/></g>
<g fill="#d84646"><rect x="349.8" y="456.3" width="2" height="9.7"/><rect x="347.9" y="455.7" width="5.8" height="2.2"/><rect x="347.9" y="464.4" width="5.8" height="2.2"/><circle cx="350.8" cy="460.7" r="3.1"/></g>
<g fill="#4864b4"><rect x="367" y="458.4" width="2" height="10.2"/><rect x="365.1" y="457.8" width="5.8" height="2.2"/><rect x="365.1" y="467" width="5.8" height="2.2"/><circle cx="368" cy="463.4" r="3.1"/></g>
<g fill="#d84646"><rect x="375" y="465.8" width="2" height="10.5"/><rect x="373.1" y="465.2" width="5.8" height="2.2"/><rect x="373.1" y="474.7" width="5.8" height="2.2"/><circle cx="376" cy="470.7" r="3.1"/></g>
<g fill="#4864b4"><rect x="381" y="468" width="2" height="10.6"/><rect x="379.1" y="467.4" width="5.8" height="2.2"/><rect x="379.1" y="477" width="5.8" height="2.2"/><circle cx="382" cy="473" r="3.1"/></g>
<g fill="#4864b4"><rect x="393.7" y="479.2" width="2" height="10.3"/><rect x="391.8" y="478.6" width="5.8" height="2.2"/><rect x="391.8" y="487.9" width="5.8" height="2.2"/><circle cx="394.7" cy="483.8" r="3.1"/></g>
<g fill="#d84646"><rect x="398.2" y="475.7" width="2" height="11.2"/><rect x="396.3" y="475.1" width="5.8" height="2.2"/><rect x="396.3" y="485.3" width="5.8" height="2.2"/><circle cx="399.2" cy="481.2" r="3.1"/></g>
<g fill="#4864b4"><rect x="404.4" y="489.2" width="2" height="12.1"/><rect x="403" y="488.6" width="4.8" height="2.2"/><rect x="403" y="499.7" width="4.8" height="2.2"/><circle cx="405.4" cy="495" r="2.3"/></g>
<g fill="#d84646"><rect x="411.8" y="486.7" width="2" height="11.7"/><rect x="409.9" y="486.1" width="5.8" height="2.2"/><rect x="409.9" y="496.8" width="5.8" height="2.2"/><circle cx="412.8" cy="492" r="3.1"/></g>
<g fill="#d84646"><rect x="414.7" y="498" width="2" height="12.8"/><rect x="413.3" y="497.4" width="4.8" height="2.2"/><rect x="413.3" y="509.2" width="4.8" height="2.2"/><circle cx="415.7" cy="505.4" r="2.3"/></g>
<g fill="#4864b4"><rect x="418.2" y="500.8" width="2" height="13.4"/><rect x="416.8" y="500.2" width="4.8" height="2.2"/><rect x="416.8" y="512.6" width="4.8" height="2.2"/><circle cx="419.2" cy="507.7" r="2.3"/></g>
<g fill="#d84646"><rect x="426.7" y="510.4" width="2" height="14.6"/><rect x="425.3" y="509.8" width="4.8" height="2.2"/><rect x="425.3" y="523.4" width="4.8" height="2.2"/><circle cx="427.7" cy="517" r="2.3"/></g>
<g fill="#4864b4"><rect x="429" y="513.8" width="2" height="14.6"/><rect x="427.6" y="513.2" width="4.8" height="2.2"/><rect x="427.6" y="526.8" width="4.8" height="2.2"/><circle cx="430" cy="520.8" r="2.3"/></g>
<g fill="#d84646"><rect x="433.6" y="524.6" width="2" height="15.1"/><rect x="432.2" y="524" width="4.8" height="2.2"/><rect x="432.2" y="538.1" width="4.8" height="2.2"/><circle cx="434.6" cy="532.3" r="2.3"/></g>
<g fill="#4864b4"><rect x="443.6" y="528" width="2" height="15.8"/><rect x="442.2" y="527.4" width="4.8" height="2.2"/><rect x="442.2" y="542.2" width="4.8" height="2.2"/><circle cx="444.6" cy="535.4" r="2.3"/></g>
<g fill="#d84646"><rect x="439.3" y="539.7" width="2" height="16.9"/><rect x="437.9" y="539.1" width="4.8" height="2.2"/><rect x="437.9" y="555" width="4.8" height="2.2"/><circle cx="440.3" cy="547.7" r="2.3"/></g>
<g fill="#4864b4"><rect x="447.9" y="543.4" width="2" height="18.1"/><rect x="446.5" y="542.8" width="4.8" height="2.2"/><rect x="446.5" y="559.9" width="4.8" height="2.2"/><circle cx="448.9" cy="552.3" r="2.3"/></g>
<g fill="#d84646"><rect x="458.9" y="556.7" width="2" height="19.5"/><rect x="457.5" y="556.1" width="4.8" height="2.2"/><rect x="457.5" y="574.6" width="4.8" height="2.2"/><circle cx="459.9" cy="565.8" r="2.3"/></g>
<g fill="#4864b4"><rect x="463.7" y="560.8" width="2" height="19.8"/><rect x="462.3" y="560.2" width="4.8" height="2.2"/><rect x="462.3" y="579" width="4.8" height="2.2"/><circle cx="464.7" cy="570.6" r="2.3"/></g>
<g fill="#d84646"><rect x="488.4" y="575.6" width="2" height="22.5"/><rect x="487" y="575" width="4.8" height="2.2"/><rect x="487" y="596.5" width="4.8" height="2.2"/><circle cx="489.4" cy="586.3" r="2.3"/></g>
<g fill="#4864b4"><rect x="488.4" y="580.8" width="2" height="23.7"/><rect x="487" y="580.2" width="4.8" height="2.2"/><rect x="487" y="602.9" width="4.8" height="2.2"/><circle cx="489.4" cy="592.4" r="2.3"/></g>
<g fill="#d84646"><rect x="512.2" y="597.8" width="2" height="26.6"/><rect x="510.8" y="597.2" width="4.8" height="2.2"/><rect x="510.8" y="622.8" width="4.8" height="2.2"/><circle cx="513.2" cy="610.2" r="2.3"/></g>
<g fill="#4864b4"><rect x="508.8" y="604" width="2" height="27.3"/><rect x="507.4" y="603.4" width="4.8" height="2.2"/><rect x="507.4" y="629.7" width="4.8" height="2.2"/><circle cx="509.8" cy="616.8" r="2.3"/></g>
<g fill="#4864b4"><rect x="529" y="631" width="2" height="34"/><rect x="527.6" y="630.4" width="4.8" height="2.2"/><rect x="527.6" y="663.4" width="4.8" height="2.2"/><circle cx="530" cy="647.3" r="2.3"/></g>
<line x1="245.6" y1="404.3" x2="581.3" y2="570.8" stroke="#111" stroke-width="1.7" stroke-dasharray="5 4.3"/>
<line x1="304" y1="366" x2="581.3" y2="702" stroke="#111" stroke-width="1.7" stroke-dasharray="5.2 4.6"/>
</g>
<rect x="245.6" y="366" width="335.7" height="336" fill="none" stroke="#000" stroke-width="2.1"/>
<path d="M304.71,702v-2M304.71,366v2M346.66,702v-2M346.66,366v2M379.19,702v-3M379.19,366v3M405.77,702v-2M405.77,366v2M428.24,702v-2M428.24,366v2M447.71,702v-2M447.71,366v2M464.88,702v-2M464.88,366v2M480.24,702v-3M480.24,366v3M245.6,675.12h2M581.3,675.12h-2M245.6,652.64h2M581.3,652.64h-2M245.6,633.18h2M581.3,633.18h-2M245.6,616.01h2M581.3,616.01h-2M245.6,600.64h3M581.3,600.64h-3M245.6,499.59h2M581.3,499.59h-2M245.6,440.47h2M581.3,440.47h-2M245.6,398.53h2M581.3,398.53h-2" stroke="#000" stroke-width="1.6"/>
<text transform="translate(229.26 372.5) scale(1.18 1)" font-family="Liberation Sans" font-size="20" fill="#111">5</text>
<text transform="translate(230.81 604.7) scale(0.74 1)" font-family="Liberation Sans" font-size="20" fill="#111">1</text>
<text transform="translate(367.12 721.9) scale(1.15 1)" font-family="Liberation Sans" font-size="19.3" fill="#111">50</text>
<text transform="translate(463.34 721.9) scale(1.14 1)" font-family="Liberation Sans" font-size="19.3" fill="#111">100</text>
<text transform="translate(355.59 746.1) scale(1.04 1)" font-family="Liberation Sans" font-size="19.4" fill="#111">Radius (AU)</text>
<text transform="translate(223.3 658.55) rotate(-90) scale(0.96 1)" font-family="Liberation Sans" font-size="21.5" fill="#111">Rotational</text>
<text transform="translate(223.3 558.2) rotate(-90) scale(0.95 1)" font-family="Liberation Sans" font-size="21.5" fill="#111">Velocity</text>
<text transform="translate(223.3 483.94) rotate(-90) scale(1.04 1)" font-family="Liberation Sans" font-size="21.5" fill="#111">(km s</text>
<text transform="translate(211.8 429.55) rotate(-90) scale(0.91 1)" font-family="Liberation Sans" font-size="15" fill="#111">-1</text>
<text transform="translate(223.3 413.98) rotate(-90) scale(0.86 1)" font-family="Liberation Sans" font-size="21.5" fill="#111">)</text>
<text transform="translate(276.47 491.7) scale(0.93 1)" font-family="Liberation Sans" font-size="20.4" fill="#111">p</text>
<text transform="translate(286.95 498.1) scale(1.13 1)" font-family="Liberation Sans" font-size="12" fill="#111">in</text>
<text transform="translate(297.07 491.7) scale(1.21 1)" font-family="Liberation Sans" font-size="17" fill="#111">=0.50</text>
<text transform="translate(387.87 616.9) scale(0.98 1)" font-family="Liberation Sans" font-size="19.3" fill="#111">p</text>
<text transform="translate(398.9 623.2) scale(0.86 1)" font-family="Liberation Sans" font-size="14.5" fill="#111">out</text>
<text transform="translate(415.97 616.9) scale(1.1 1)" font-family="Liberation Sans" font-size="18.7" fill="#111">=1.22</text>
</svg></body></html>
